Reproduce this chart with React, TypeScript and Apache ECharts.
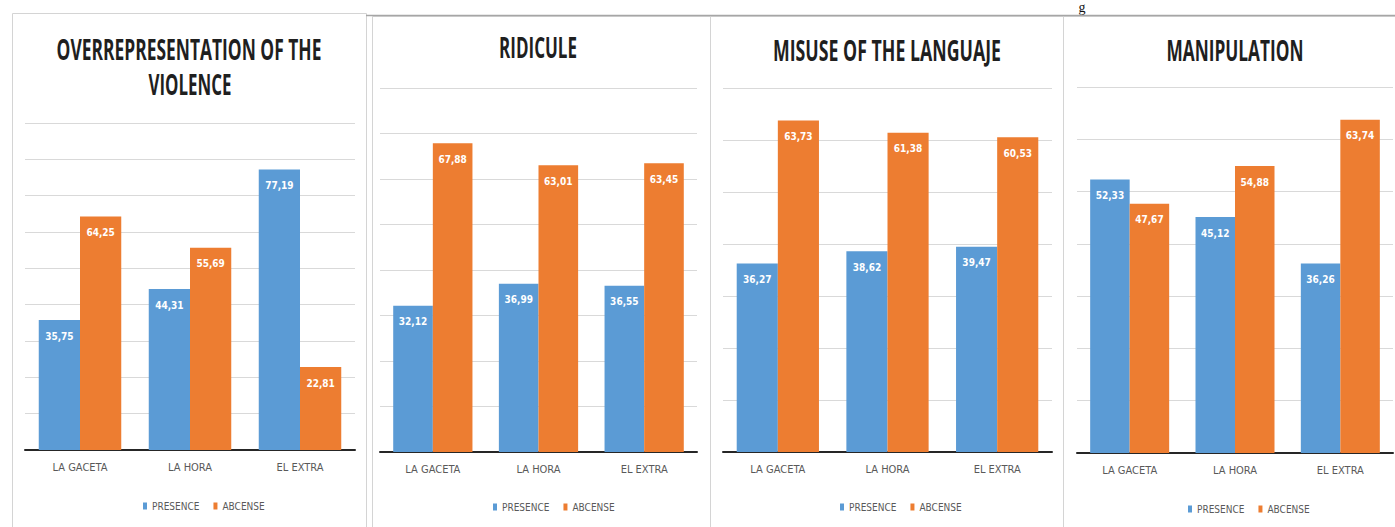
import React, { useEffect, useRef } from "react";
import * as echarts from "echarts";

// ---- data ----
const categories = ["LA GACETA", "LA HORA", "EL EXTRA"];
const seriesNames = ["PRESENCE", "ABCENSE"];

const overrepTitle = ["OVERREPRESENTATION OF THE", "VIOLENCE"];
const overrepPresence = [35.75, 44.31, 77.19];
const overrepAbsence = [64.25, 55.69, 22.81];

const ridiculeTitle = ["RIDICULE"];
const ridiculePresence = [32.12, 36.99, 36.55];
const ridiculeAbsence = [67.88, 63.01, 63.45];

const misuseTitle = ["MISUSE OF THE LANGUAJE"];
const misusePresence = [36.27, 38.62, 39.47];
const misuseAbsence = [63.73, 61.38, 60.53];

const manipTitle = ["MANIPULATION"];
const manipPresence = [52.33, 45.12, 36.26];
const manipAbsence = [47.67, 54.88, 63.74];

const axisMaxes = [90, 80, 70, 70];
const axisInterval = 10;

// ---- layout / style ----
const BLUE = "#5B9BD5";
const ORANGE = "#ED7D31";
const NARROW = "'Liberation Sans Narrow', 'DejaVu Sans Condensed', Roboto, sans-serif";

const panels = [
  {
    title: overrepTitle, presence: overrepPresence, absence: overrepAbsence,
    grid: { left: 25, top: 123, width: 330, height: 327 },
    box: { x: 12, y: 13, w: 354, h: 530 },
    titleLines: [{ x: 189, y: 49, w: 265 }, { x: 190, y: 84, w: 83 }],
    legendLeft: 138, legendTop: 496,
  },
  {
    title: ridiculeTitle, presence: ridiculePresence, absence: ridiculeAbsence,
    grid: { left: 380, top: 88, width: 317, height: 364 },
    box: { x: 372, y: 16, w: 338, h: 530 },
    titleLines: [{ x: 538, y: 47, w: 78 }],
    legendLeft: 488, legendTop: 497,
  },
  {
    title: misuseTitle, presence: misusePresence, absence: misuseAbsence,
    grid: { left: 723, top: 88, width: 329, height: 364 },
    box: { x: 710, y: 16, w: 353, h: 530 },
    titleLines: [{ x: 887, y: 50, w: 228 }],
    legendLeft: 835, legendTop: 497,
  },
  {
    title: manipTitle, presence: manipPresence, absence: manipAbsence,
    grid: { left: 1077, top: 87, width: 316, height: 366 },
    box: { x: 1063, y: 16, w: 340, h: 530 },
    titleLines: [{ x: 1235, y: 50, w: 137 }],
    legendLeft: 1183, legendTop: 499,
  },
];

const TITLE_FONT_FAMILY = "'Open Sans', Roboto, sans-serif";
const TITLE_FONT_SIZE = 28;

function measureText(text: string, font: string): number {
  const ctx = document.createElement("canvas").getContext("2d");
  if (!ctx) return text.length * 14;
  ctx.font = font;
  return ctx.measureText(text).width;
}

const fmt = (p: any) => Number(p.value).toFixed(2).replace(".", ",");

export default function App() {
  const ref = useRef<HTMLDivElement>(null);

  useEffect(() => {
    if (!ref.current) return;
    const chart = echarts.init(ref.current, undefined, { renderer: "svg" });

    const grids: any[] = [];
    const xAxes: any[] = [];
    const yAxes: any[] = [];
    const series: any[] = [];
    const legends: any[] = [];
    const graphics: any[] = [];

    // glyph from the surrounding page at the top edge
    graphics.push({
      type: "text", x: 1082, y: 0, silent: true,
      style: { text: "g", fontFamily: "'Liberation Serif', serif", fontSize: 14, fill: "#111", align: "center", verticalAlign: "top" },
    });
    graphics.push({
      type: "line", silent: true,
      shape: { x1: 366, y1: 15.5, x2: 1395, y2: 15.5 },
      style: { stroke: "#a6a6a6", lineWidth: 1.5 },
    });

    panels.forEach((p, i) => {
      graphics.push({
        type: "rect", silent: true, z: -1,
        shape: { x: p.box.x + 0.5, y: p.box.y + 0.5, width: p.box.w, height: p.box.h },
        style: { fill: "#ffffff", stroke: "#d4d4d4", lineWidth: 1 },
      });
      p.title.forEach((line, li) => {
        const pos = p.titleLines[li];
        const w = measureText(line, `bold ${TITLE_FONT_SIZE}px ${TITLE_FONT_FAMILY}`);
        graphics.push({
          type: "text", x: pos.x, y: pos.y, scaleX: pos.w / w, silent: true,
          style: {
            text: line, fontFamily: TITLE_FONT_FAMILY, fontWeight: "bold", fontSize: TITLE_FONT_SIZE,
            fill: "#1f1f1f", align: "center", verticalAlign: "middle",
          },
        });
      });

      grids.push({ ...p.grid, containLabel: false });
      xAxes.push({
        type: "category", gridIndex: i, data: categories,
        axisTick: { show: false },
        axisLine: { lineStyle: { color: "#262626", width: 2 } },
        axisLabel: { color: "#595959", fontSize: 11, fontFamily: NARROW, margin: 12 },
      });
      yAxes.push({
        type: "value", gridIndex: i, min: 0, max: axisMaxes[i], interval: axisInterval,
        axisLabel: { show: false }, axisTick: { show: false }, axisLine: { show: false },
        splitLine: { lineStyle: { color: "#d9d9d9", width: 1 } },
      });
      const label = {
        show: true, position: "insideTop", distance: 11, formatter: fmt,
        color: "#ffffff", fontWeight: "bold", fontSize: 10, fontFamily: NARROW,
      };
      series.push({
        type: "bar", name: seriesNames[0], xAxisIndex: i, yAxisIndex: i, data: p.presence,
        itemStyle: { color: BLUE }, barGap: "0%", barCategoryGap: "25%", label,
      });
      series.push({
        type: "bar", name: seriesNames[1], xAxisIndex: i, yAxisIndex: i, data: p.absence,
        itemStyle: { color: ORANGE }, barGap: "0%", barCategoryGap: "25%", label,
      });
      legends.push({
        data: seriesNames, left: p.legendLeft, top: p.legendTop, orient: "horizontal",
        icon: "rect", itemWidth: 4, itemHeight: 7, itemGap: 14,
        textStyle: { color: "#595959", fontSize: 10, fontFamily: NARROW },
        selectedMode: false,
      });
    });

    chart.setOption({
      animation: false,
      backgroundColor: "#ffffff",
      grid: grids,
      xAxis: xAxes,
      yAxis: yAxes,
      series,
      legend: legends,
      graphic: graphics,
    });

    return () => chart.dispose();
  }, []);

  return (
    <div
      ref={ref}
      style={{ position: "absolute", left: 0, top: 0, width: 1395, height: 527, background: "#fff" }}
    />
  );
}
